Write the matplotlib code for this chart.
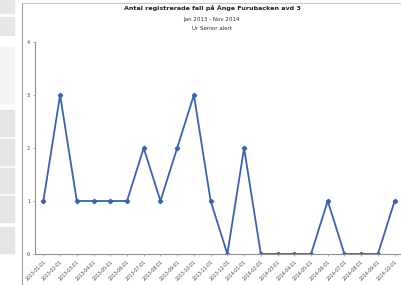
import matplotlib.pyplot as plt
from matplotlib.patches import Rectangle
from matplotlib.lines import Line2D

months = ["2013-01-01", "2013-02-01", "2013-03-01", "2013-04-01", "2013-05-01",
          "2013-06-01", "2013-07-01", "2013-08-01", "2013-09-01", "2013-10-01",
          "2013-11-01", "2013-12-01", "2014-01-01", "2014-02-01", "2014-03-01",
          "2014-04-01", "2014-05-01", "2014-06-01", "2014-07-01", "2014-08-01",
          "2014-09-01", "2014-10-01"]
cases = [1, 3, 1, 1, 1, 1, 2, 1, 2, 3, 1, 0, 2, 0, 0, 0, 0, 1, 0, 0, 0, 1]
yticks = [0, 1, 2, 3, 4]

W, H = 401, 285
fig = plt.figure(figsize=(W / 100, H / 100), dpi=100)

# page furniture: grey sidebar boxes and frame lines
for y0, y1, c in [(0, 13, "#e6e6e6"), (17, 35, "#e6e6e6"), (47, 103, "#f3f3f3"),
                  (110, 136, "#e4e4e4"), (139, 165, "#e4e4e4"), (168, 193, "#e4e4e4"),
                  (196, 222, "#e4e4e4"), (227, 253, "#e4e4e4")]:
    fig.patches.append(Rectangle((0, 1 - y1 / H), 14 / W, (y1 - y0) / H,
                                 transform=fig.transFigure, color=c, zorder=0))
fig.lines.append(Line2D([22 / W, 22 / W], [0, 1 - 4 / H], transform=fig.transFigure,
                        color="#a0a0a0", lw=0.8))
fig.lines.append(Line2D([22 / W, 1], [1 - 3 / H, 1 - 3 / H], transform=fig.transFigure,
                        color="#c8c8c8", lw=0.8))

ax = fig.add_axes([35 / W, 31 / H, 368 / W, 212 / H])
x = list(range(len(months)))
ax.plot(x, cases, color="#3a62b0", lw=1.3, marker="D", markersize=2.2)
ax.set_xlim(-0.5, len(months) - 0.5)
ax.set_ylim(0, 4)
ax.set_yticks(yticks)
ax.set_yticklabels([str(v) for v in yticks], fontsize=3.5, color="#404040")
ax.set_xticks(x)
ax.set_xticklabels(months, rotation=45, ha="right", rotation_mode="anchor",
                   fontsize=3.3, color="#404040")
ax.tick_params(axis="both", length=1.5, width=0.5, color="#909090", pad=2)
for s in ["top", "right"]:
    ax.spines[s].set_visible(False)
for s in ["left", "bottom"]:
    ax.spines[s].set_color("#909090")
    ax.spines[s].set_linewidth(0.8)

fig.text(212 / W, 1 - 8 / H, "Antal registrerade fall på Ånge Furubacken avd 3",
         ha="center", va="center", fontsize=4.6, fontweight="bold", color="#202020")
fig.text(212 / W, 1 - 19 / H, "Jan 2013 - Nov 2014", ha="center", va="center",
         fontsize=4, color="#303030")
fig.text(212 / W, 1 - 28 / H, "Ur Senior alert", ha="center", va="center",
         fontsize=4, color="#303030")

fig.savefig("out.png", dpi=100)
